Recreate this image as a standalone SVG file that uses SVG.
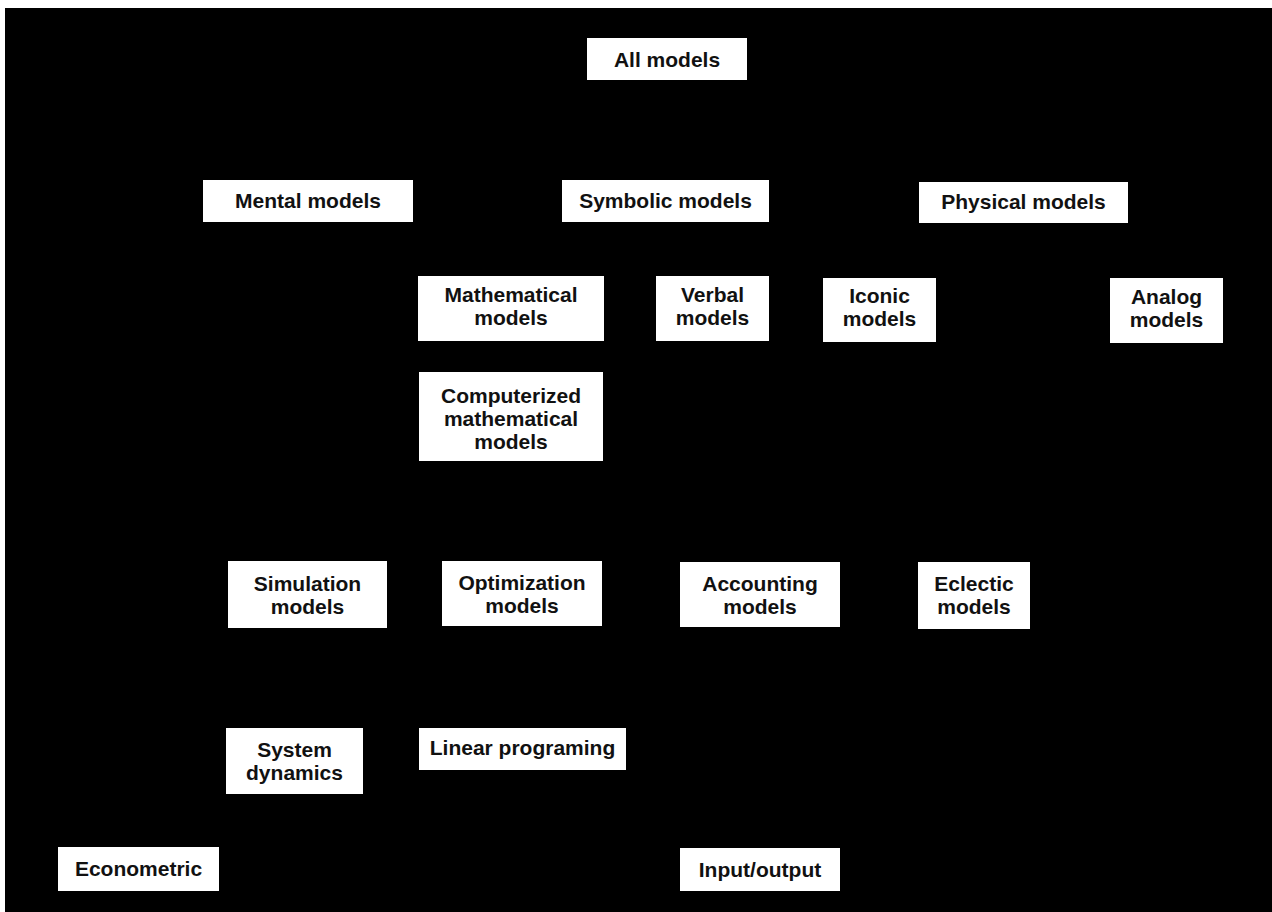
<svg xmlns="http://www.w3.org/2000/svg" width="1272" height="912" viewBox="0 0 1272 912">
  <style>
    .box { fill: #ffffff; stroke: none; }
    .lbl { font-family: "Liberation Sans", Arial, Helvetica, sans-serif; font-weight: bold; font-size: 21px; fill: #111111; text-anchor: middle; }
  </style>
  <rect x="0" y="0" width="1272" height="912" fill="#ffffff"/>
  <rect x="5" y="8" width="1267" height="904" fill="#000000"/>
  <g id="connectors"></g>

  <g id="all-models">
    <rect class="box" x="587" y="38" width="160" height="42"/>
    <text class="lbl" x="667" y="67">All models</text>
  </g>
  <g id="mental-models">
    <rect class="box" x="203" y="180" width="210" height="42"/>
    <text class="lbl" x="308" y="208">Mental models</text>
  </g>
  <g id="symbolic-models">
    <rect class="box" x="562" y="180" width="207" height="42"/>
    <text class="lbl" x="665.5" y="208">Symbolic models</text>
  </g>
  <g id="physical-models">
    <rect class="box" x="919" y="182" width="209" height="41"/>
    <text class="lbl" x="1023.5" y="209">Physical models</text>
  </g>
  <g id="mathematical-models">
    <rect class="box" x="418" y="276" width="186" height="65"/>
    <text class="lbl" x="511" y="302">Mathematical</text>
    <text class="lbl" x="511" y="325">models</text>
  </g>
  <g id="verbal-models">
    <rect class="box" x="656" y="276" width="113" height="65"/>
    <text class="lbl" x="712.5" y="302">Verbal</text>
    <text class="lbl" x="712.5" y="325">models</text>
  </g>
  <g id="iconic-models">
    <rect class="box" x="823" y="278" width="113" height="64"/>
    <text class="lbl" x="879.5" y="303">Iconic</text>
    <text class="lbl" x="879.5" y="326">models</text>
  </g>
  <g id="analog-models">
    <rect class="box" x="1110" y="278" width="113" height="65"/>
    <text class="lbl" x="1166.5" y="304">Analog</text>
    <text class="lbl" x="1166.5" y="327">models</text>
  </g>
  <g id="computerized-mathematical-models">
    <rect class="box" x="419" y="372" width="184" height="89"/>
    <text class="lbl" x="511" y="403">Computerized</text>
    <text class="lbl" x="511" y="426">mathematical</text>
    <text class="lbl" x="511" y="449">models</text>
  </g>
  <g id="simulation-models">
    <rect class="box" x="228" y="561" width="159" height="67"/>
    <text class="lbl" x="307.5" y="591">Simulation</text>
    <text class="lbl" x="307.5" y="614">models</text>
  </g>
  <g id="optimization-models">
    <rect class="box" x="442" y="561" width="160" height="65"/>
    <text class="lbl" x="522" y="590">Optimization</text>
    <text class="lbl" x="522" y="613">models</text>
  </g>
  <g id="accounting-models">
    <rect class="box" x="680" y="562" width="160" height="65"/>
    <text class="lbl" x="760" y="591">Accounting</text>
    <text class="lbl" x="760" y="614">models</text>
  </g>
  <g id="eclectic-models">
    <rect class="box" x="918" y="562" width="112" height="67"/>
    <text class="lbl" x="974" y="591">Eclectic</text>
    <text class="lbl" x="974" y="614">models</text>
  </g>
  <g id="system-dynamics">
    <rect class="box" x="226" y="728" width="137" height="66"/>
    <text class="lbl" x="294.5" y="757">System</text>
    <text class="lbl" x="294.5" y="780">dynamics</text>
  </g>
  <g id="linear-programing">
    <rect class="box" x="419" y="728" width="207" height="42"/>
    <text class="lbl" x="522.5" y="755">Linear programing</text>
  </g>
  <g id="econometric">
    <rect class="box" x="58" y="847" width="161" height="44"/>
    <text class="lbl" x="138.5" y="876">Econometric</text>
  </g>
  <g id="input-output">
    <rect class="box" x="680" y="848" width="160" height="43"/>
    <text class="lbl" x="760" y="877">Input/output</text>
  </g>
</svg>
